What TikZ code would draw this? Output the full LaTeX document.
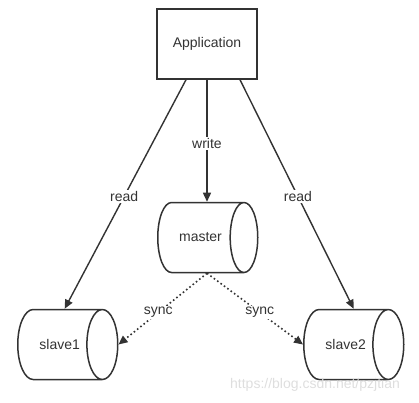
\documentclass[tikz,border=0pt]{standalone}
\usepackage{fontspec}
\setmainfont{Liberation Sans}
\usetikzlibrary{arrows.meta, shapes.geometric}

\begin{document}
\begin{tikzpicture}[x=1pt, y=-1pt,
    every node/.style={font=\fontsize{14}{16}\selectfont, text=black!80},
    appbox/.style={rectangle, draw=black!80, line width=1.5pt,
      minimum width=100pt, minimum height=70pt},
    dbbox/.style={cylinder, draw=black!80, line width=1.5pt, aspect=3,
      minimum width=70pt, minimum height=100pt, inner sep=0pt, anchor=west},
    arr/.style={-{Triangle[length=9pt, width=8pt]}, line width=1.4pt, black!80},
    syncarr/.style={arr, line width=1.6pt, dash pattern=on 1.6pt off 2.6pt},
    lbl/.style={fill=white, inner sep=1.5pt}
  ]
    \useasboundingbox (0,0) rectangle (419,402);

    \node[appbox] (app) at (207,44) {Application};
    \node[dbbox] (master) at (157,237.5) {master};
    \node[dbbox] (slave1) at (17,344.5) {slave1};
    \node[dbbox] (slave2) at (303,344.5) {slave2};

    \draw[arr] ([xshift=-21pt]app.south) -- node[lbl, pos=0.51]{read} ([xshift=5pt]slave1.north);
    \draw[arr] (app.south) -- node[lbl, pos=0.52]{write} (app.south |- master.north);
    \draw[arr] ([xshift=33pt]app.south) -- node[lbl, pos=0.51]{read} ([xshift=8pt]slave2.north);
    \draw[syncarr] (app.south |- master.south) -- node[lbl, pos=0.55]{sync} (slave1.east);
    \draw[syncarr] (app.south |- master.south) -- node[lbl, pos=0.55]{sync} (slave2.west);

    \node[text=black!13] (mark) at (315,385) {https://blog.csdn.net/pzjtian};
  \end{tikzpicture}
\end{document}
